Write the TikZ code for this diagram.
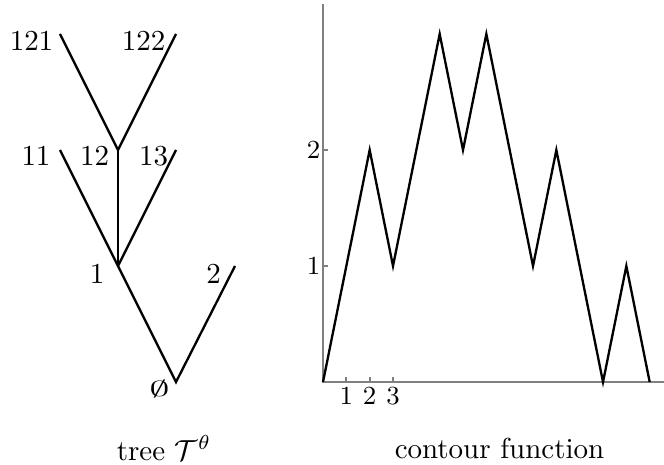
\documentclass[tikz,border=0pt]{standalone}
\begin{document}
\begin{tikzpicture}[x=0.345pt, y=-0.345pt,
  edge/.style={thick},
  vlabel/.style={inner sep=0pt},
  axis/.style={gray, line width=0.6pt},
  tick/.style={font=\small, text=black, inner sep=1.5pt},
  curve/.style={thick, line join=miter}]
  \useasboundingbox (0,0) rectangle (664,464);
  % tree
  \coordinate (root) at (176,382);
  \coordinate (v1)   at (118,266);
  \coordinate (v2)   at (235,266);
  \coordinate (v11)  at (60,150);
  \coordinate (v12)  at (118,150);
  \coordinate (v13)  at (176,150);
  \coordinate (v121) at (60,34);
  \coordinate (v122) at (176,34);
  \draw[edge] (v2) -- (root) -- (v1) -- (v11);
  \draw[edge] (v1) -- (v12);
  \draw[edge] (v1) -- (v13);
  \draw[edge] (v121) -- (v12) -- (v122);
  \node[vlabel] (lroot) at (159.5,388.5) {\scalebox{1.4}[0.75]{$\emptyset$}};
  \node[vlabel] (l1)    at (97,273.5)  {1};
  \node[vlabel] (l2)    at (213.5,274) {2};
  \node[vlabel] (l11)   at (36,156)    {11};
  \node[vlabel] (l12)   at (94.5,156)  {12};
  \node[vlabel] (l13)   at (153.5,156) {13};
  \node[vlabel] (l121)  at (31.5,40.5) {121};
  \node[vlabel] (l122)  at (143.5,40.5){122};
  % contour function
  \begin{scope}[shift={(323,382)}, x=8.05pt, y=40.02pt]
    \coordinate (o) at (0,0);
    \coordinate (xend) at (14.62,0);
    \coordinate (yend) at (0,3.26);
    \draw[axis] (xend) -- (o) -- (yend);
    \foreach \t in {1,2,3}
      \draw[axis] (\t,0) node[tick, anchor=north] (xt\t) {\t} -- (\t,0.045);
    \foreach \h in {1,2}
      \draw[axis] (0,\h) node[tick, anchor=east, inner sep=0.6pt] (yt\h) {\h} -- (0.22,\h);
    \draw[curve] (0,0) -- (2,2) -- (3,1) -- (5,3) -- (6,2) -- (7,3) -- (9,1)
      -- (10,2) -- (12,0) -- (13,1) -- (14,0);
  \end{scope}
  % captions
  \node (captree) at (164,448) {tree $\mathcal{T}^\theta$};
  \node (capcont) at (499.5,448) {contour function};
\end{tikzpicture}
\end{document}
